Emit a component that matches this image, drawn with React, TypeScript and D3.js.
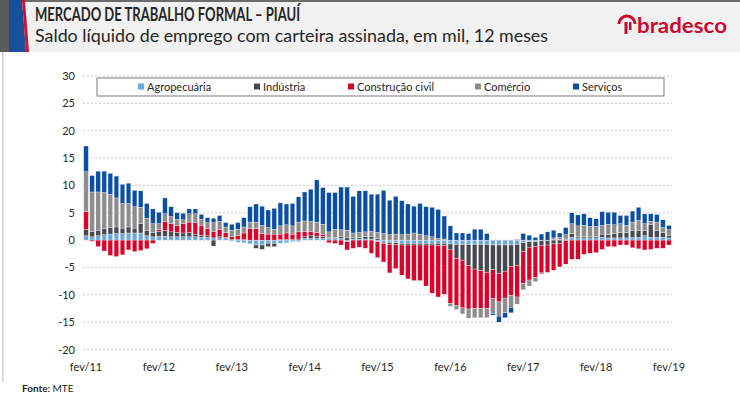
import React from "react";
import * as d3 from "d3";

const months: string[] = [];
const yearLabels = ["fev/11","fev/12","fev/13","fev/14","fev/15","fev/16","fev/17","fev/18","fev/19"];
const yTicks = [-20, -15, -10, -5, 0, 5, 10, 15, 20, 25, 30];
const seriesNames = ["Agropecuária", "Indústria", "Construção civil", "Comércio", "Serviços"];
const seriesKeys = ["agro", "ind", "cons", "com", "serv"];
const seriesColors = ["#6fa8dc", "#464a4f", "#d9042b", "#8d8d8d", "#0b4ea2"];

const agro = [0.8,0.6,0.8,1.0,1.1,1.2,1.2,1.3,1.3,1.3,0.8,0.6,
  0.7,0.7,0.6,0.6,0.6,0.6,0.6,0.5,0.5,0.4,0.4,0.3,
  -0.2,-0.4,-0.5,-0.7,-0.9,-0.9,-0.6,-0.6,-0.6,-0.5,-0.3,-0.3,
  0.3,0.3,0.3,0.3,0.3,0.3,0.3,-0.3,0.2,0.2,0.2,0.2,
  -0.3,-0.4,-0.5,-0.5,-0.6,-0.6,-0.6,-0.6,-0.6,-0.6,-0.6,-0.6,
  -0.7,-0.8,-0.8,-0.8,-0.8,-0.8,-0.8,-0.9,-0.9,-0.9,-0.9,-0.8,
  -0.5,-0.3,-0.3,-0.1,-0.1,0.1,0.1,0.2,0.5,0.4,0.4,0.4,
  0.4,0.5,0.4,0.4,0.4,0.4,0.5,0.5,0.8,0.5,0.5,0.5,0.4];
const ind = [1.2,1.0,1.0,1.1,1.2,1.2,1.0,1.1,0.9,1.7,1.0,0.8,
  0.9,1.1,0.9,0.8,0.7,0.8,0.5,0.4,0.3,-1.1,0.2,0.2,
  0.1,0.1,0.1,0.0,-0.6,-0.8,-0.6,-0.6,0.1,0.1,0.1,0.2,
  0.3,0.5,0.4,0.4,0.2,0.2,0.3,0.4,0.3,0.3,0.4,0.4,
  0.3,-0.2,-0.3,-0.3,-0.3,-0.3,-0.3,-0.3,-0.3,-0.3,-0.4,-0.4,
  -1.1,-2.6,-2.9,-3.9,-4.5,-4.8,-5.1,-4.5,-5.2,-4.8,-3.9,-3.8,
  -1.6,-1.0,-0.9,-0.9,-0.8,-0.7,-0.6,-0.1,0.7,0.2,0.3,0.2,
  0.3,0.6,0.6,0.8,1.0,1.0,1.2,1.3,1.0,2.3,1.3,0.9,0.5];
const cons = [3.2,-0.2,-1.2,-2.0,-2.8,-3.0,-2.7,-1.8,-2.1,-1.9,-1.6,-0.6,
  0.3,1.6,1.5,1.3,1.7,1.9,2.1,1.7,1.3,1.2,1.4,0.9,
  0.5,0.7,1.2,2.1,2.1,1.2,1.1,1.1,1.0,1.2,1.0,1.3,
  1.0,0.8,0.7,0.3,-0.5,-0.6,-0.9,-1.5,-1.5,-1.3,-1.5,-2.4,
  -2.9,-3.4,-5.2,-4.4,-5.5,-6.2,-6.5,-6.5,-7.5,-8.8,-9.4,-8.9,
  -9.8,-8.5,-8.7,-7.9,-7.2,-6.9,-6.6,-5.3,-5.2,-4.9,-5.3,-5.8,
  -5.8,-6.0,-5.6,-5.0,-5.0,-4.8,-4.3,-4.3,-3.5,-3.5,-2.6,-2.4,
  -2.3,-1.7,-1.2,-1.2,-0.9,-0.9,-1.4,-1.6,-1.8,-1.7,-1.5,-1.5,-0.9];
const com = [7.3,7.2,7.0,6.6,6.1,5.3,4.5,4.3,3.9,3.0,2.2,1.6,
  1.1,1.4,1.3,1.1,0.7,1.5,1.6,1.2,1.1,1.6,1.4,1.0,
  1.2,1.2,1.1,1.2,1.2,1.5,1.2,0.9,1.5,1.5,1.5,1.8,
  1.9,1.8,1.9,1.9,1.0,1.5,1.3,1.4,0.8,0.9,0.9,1.0,
  1.1,1.2,1.0,1.1,1.0,1.1,1.3,1.1,0.8,0.6,0.3,0.2,
  -0.5,-0.8,-1.1,-1.7,-1.7,-1.7,-1.7,-2.7,-2.6,-2.7,-2.2,-1.3,
  -1.2,-1.1,-0.8,-0.2,0.0,0.3,0.4,0.8,1.8,2.0,2.0,1.9,
  1.8,1.6,1.9,1.6,1.6,1.3,1.6,1.8,1.2,0.6,1.5,0.9,1.0];
const serv = [4.7,3.0,3.8,3.9,3.8,4.0,3.5,3.7,3.0,3.0,2.7,2.7,
  2.1,2.9,1.8,1.2,1.2,0.9,0.9,0.9,0.9,0.8,1.1,0.8,
  1.1,1.2,1.7,2.8,3.3,3.5,3.2,3.8,4.2,3.8,4.1,4.6,
  5.3,5.9,7.7,6.7,7.2,6.7,7.8,7.9,6.7,7.6,7.5,6.8,
  7.0,7.9,6.3,6.9,6.2,5.5,4.9,5.6,5.3,5.4,5.3,4.2,
  2.6,1.3,1.3,1.2,2.0,2.0,1.2,-0.3,-1.1,-0.9,-1.0,0.1,
  1.2,0.9,0.5,1.1,1.5,1.4,0.8,1.3,2.0,2.0,2.1,1.6,
  1.4,2.5,2.2,2.3,1.5,1.8,2.0,2.4,1.8,1.4,1.4,1.4,0.8];

for (let i = 0; i < agro.length; i++) months.push("m" + i);

const W = 740, H = 395;
const x0 = 83, x1 = 672;
const yTop = 76, yBot = 349.5;

export default function App() {
  const rows = months.map((m, i) => ({
    m, agro: agro[i], ind: ind[i], cons: cons[i], com: com[i], serv: serv[i],
  }));
  const x = d3.scaleBand<string>().domain(months).range([x0, x1]).paddingInner(0.24).paddingOuter(0.12);
  const y = d3.scaleLinear().domain([-20, 30]).range([yBot, yTop]);
  const stack = d3.stack<any>().keys(seriesKeys).offset(d3.stackOffsetDiverging);
  const layers = stack(rows);
  const font = "Lato, 'Open Sans', sans-serif";
  const legendX = [138, 254, 348, 475, 573];

  return (
    <svg width={W} height={H} style={{ position: "absolute", left: 0, top: 0 }} fontFamily={font}>
      <rect x={0} y={0} width={W} height={H} fill="#fff" />
      {/* header */}
      <rect x={0} y={0} width={W} height={52} fill="#f1f1f1" />
      <rect x={0} y={0} width={W} height={2} fill="#6b6b6b" />
      <polygon points="0,0 9,0 9,52 0,52" fill="#5b5b5b" />
      <polygon points="9,0 22,0 26,52 9,52" fill="#1a4f9c" />
      <polygon points="22,0 25,0 29,52 26,52" fill="#d8102f" />
      <rect x={2} y={52} width={1.5} height={330} fill="#cfcfcf" />
      <text x={35} y={21} fontSize={19} fontWeight={700} fill="#262626" textLength={265} lengthAdjust="spacingAndGlyphs">MERCADO DE TRABALHO FORMAL – PIAUÍ</text>
      <text x={35} y={42} fontSize={17} fill="#262626" textLength={513} lengthAdjust="spacingAndGlyphs">Saldo líquido de emprego com carteira assinada, em mil, 12 meses</text>
      {/* bradesco logo */}
      <g fill="#cc092f">
        <path d="M619,24 a8,8 0 0 1 16,0" fill="none" stroke="#cc092f" strokeWidth={3} />
        <rect x={624.5} y={22} width={3} height={12} />
        <rect x={629} y={22} width={2.5} height={8} />
        <text x={637} y={33} fontSize={20} fontWeight={700} textLength={90} lengthAdjust="spacingAndGlyphs">bradesco</text>
      </g>
      {/* grid */}
      {yTicks.map((t) => (
        <g key={t}>
          <line x1={x0} x2={x1} y1={y(t)} y2={y(t)} stroke="#cccccc" strokeWidth={1} strokeDasharray="2,2" />
          <text x={75} y={y(t) + 4} fontSize={11} textAnchor="end" fill="#262626">{t}</text>
        </g>
      ))}
      {/* bars */}
      {layers.map((layer, k) => (
        <g key={seriesKeys[k]} fill={seriesColors[k]}>
          {layer.map((d: any, i: number) => {
            const top = y(Math.max(d[0], d[1]));
            const h = Math.abs(y(d[0]) - y(d[1]));
            if (h <= 0) return null;
            return <rect key={i} x={x(months[i])} y={top} width={x.bandwidth()} height={h} stroke="#fff" strokeWidth={0.3} />;
          })}
        </g>
      ))}
      {/* x labels */}
      {yearLabels.map((l, j) => (
        <text key={l} x={(x(months[j * 12]) as number) + x.bandwidth() / 2} y={371} fontSize={11} textAnchor="middle" fill="#262626">{l}</text>
      ))}
      {/* legend */}
      <rect x={97} y={78} width={567} height={18} fill="#fff" stroke="#7a7a7a" strokeWidth={1} />
      {seriesNames.map((n, k) => (
        <g key={n}>
          <rect x={legendX[k]} y={83.5} width={6} height={6} fill={seriesColors[k]} />
          <text x={legendX[k] + 9} y={90.5} fontSize={11} fill="#262626">{n}</text>
        </g>
      ))}
      <text x={22} y={392} fontSize={10} fontWeight={700} fill="#262626">Fonte: <tspan fontWeight={400}>MTE</tspan></text>
    </svg>
  );
}
